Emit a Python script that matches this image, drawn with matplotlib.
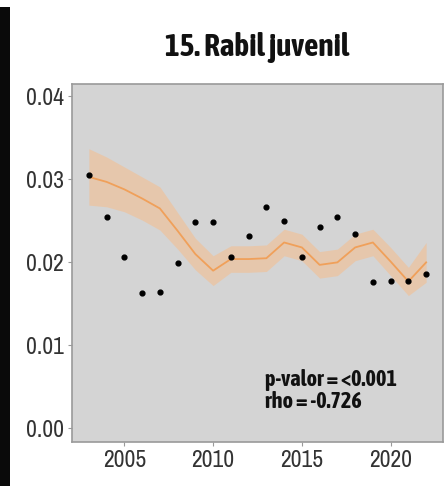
import matplotlib
matplotlib.use("Agg")
import matplotlib.pyplot as plt
from matplotlib.patches import Rectangle
from matplotlib import font_manager
from matplotlib.font_manager import FontProperties

years = list(range(2003, 2023))
observed = [0.0305, 0.0255, 0.0207, 0.0163, 0.0164, 0.0199, 0.0249, 0.0249, 0.0207, 0.0232,
            0.0267, 0.0250, 0.0207, 0.0243, 0.0255, 0.0234, 0.0176, 0.0178, 0.0178, 0.0186]
fit = [0.0303, 0.0297, 0.0288, 0.0277, 0.0265, 0.0238, 0.0210, 0.0190, 0.0204, 0.0204,
       0.0205, 0.0224, 0.0218, 0.0197, 0.0200, 0.0218, 0.0224, 0.0201, 0.0177, 0.0200]
half_width = [0.0034, 0.0030, 0.0027, 0.0026, 0.0026, 0.0022, 0.0019, 0.0018, 0.0016, 0.0016,
              0.0016, 0.0016, 0.0016, 0.0016, 0.0016, 0.0016, 0.0016, 0.0017, 0.0017, 0.0024]
lower = [f - h for f, h in zip(fit, half_width)]
upper = [f + h for f, h in zip(fit, half_width)]
x_ticks = [2005, 2010, 2015, 2020]
y_ticks = [0.00, 0.01, 0.02, 0.03, 0.04]
y_labels = ["0.00", "0.01", "0.02", "0.03", "0.04"]
title = "15. Rabil juvenil"
annot = "p-valor = <0.001\nrho = -0.726"


def wnum(w):
    if isinstance(w, int):
        return w
    table = {"ultralight": 200, "light": 300, "normal": 400, "regular": 400, "book": 400,
             "medium": 500, "roman": 400, "semibold": 600, "demibold": 600, "demi": 600,
             "bold": 700, "heavy": 800, "extra bold": 800, "black": 900}
    return table.get(str(w).lower(), 400)


entries = [f for f in font_manager.fontManager.ttflist
           if ("Narrow" in f.name or "Condensed" in f.name) and "DejaVu" not in f.name
           and f.style == "normal"]
if entries:
    reg = min(entries, key=lambda f: (abs(wnum(f.weight) - 400), f.name))
    bold = min(entries, key=lambda f: (abs(wnum(f.weight) - 700), f.name))
    fp_reg = FontProperties(fname=reg.fname)
    fp_bold = FontProperties(fname=bold.fname)
    tick_fs, title_fs, ann_fs = 17, 22.5, 16
else:
    fp_reg = FontProperties(family="Liberation Sans")
    fp_bold = FontProperties(family="Liberation Sans", weight="bold")
    tick_fs, title_fs, ann_fs = 14, 19, 13

W, H = 446, 486
fig = plt.figure(figsize=(W / 100, H / 100), dpi=100)
fig.patch.set_facecolor("white")
fig.patches.append(Rectangle((0, 0), 10 / W, 1 - 7 / H, transform=fig.transFigure,
                             facecolor="#0a0a0a", edgecolor="none", zorder=0))

ax = fig.add_axes([72 / W, 1 - 442 / H, (443 - 72) / W, (442 - 84) / H])
ax.set_facecolor("#d4d4d4")
ax.fill_between(years, lower, upper, color="#f9bb85", alpha=0.5, linewidth=0, zorder=2)
ax.plot(years, fit, color="#f0a05a", linewidth=1.3, zorder=3)
ax.scatter(years, observed, s=12, color="black", zorder=4)

ax.set_xlim(2002.05, 2022.95)
ax.set_ylim(-0.00165, 0.0415)
ax.set_xticks(x_ticks)
ax.set_xticklabels([str(t) for t in x_ticks])
ax.set_yticks(y_ticks)
ax.set_yticklabels(y_labels)
ax.tick_params(axis="both", colors="#999999", length=3, width=0.8,
               labelcolor="#333333", pad=3)
for lab in ax.get_xticklabels() + ax.get_yticklabels():
    lab.set_fontproperties(fp_reg)
    lab.set_fontsize(tick_fs)
for s in ax.spines.values():
    s.set_edgecolor("#9a9a9a")
    s.set_linewidth(1.2)

ax.text(2012.94, 0.0025, annot, fontproperties=fp_bold, fontsize=ann_fs, color="#111111",
        ha="left", va="baseline", linespacing=1.0)

fig.text(257.5 / W, 1 - 56 / H, title, fontproperties=fp_bold, fontsize=title_fs,
         color="#111111", ha="center", va="baseline")

fig.savefig("out.png", dpi=100, facecolor="white")
